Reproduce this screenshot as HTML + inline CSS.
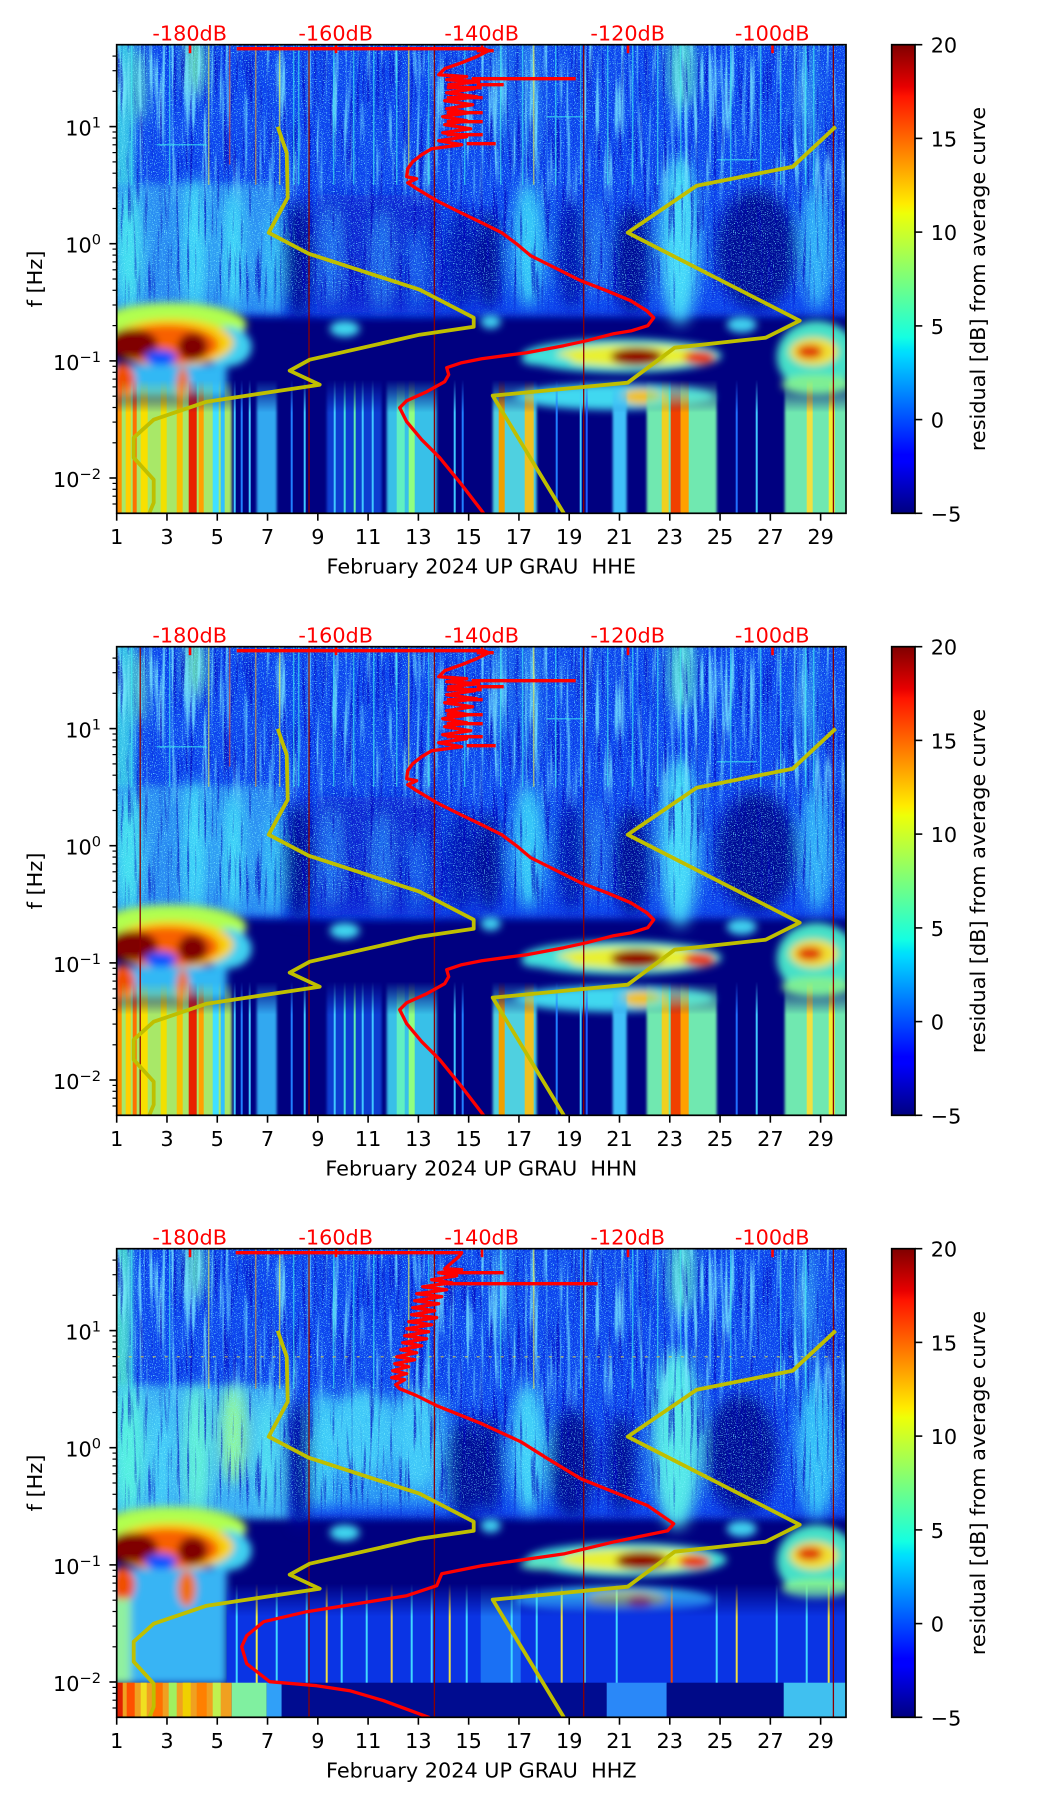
<!DOCTYPE html>
<html><head><meta charset="utf-8"><style>
html,body{margin:0;padding:0;background:#fff;}
svg{display:block;}
text{font-family:"DejaVu Sans","Liberation Sans",sans-serif;}
</style></head><body>
<svg width="1052" height="1806" viewBox="0 0 1052 1806" xmlns="http://www.w3.org/2000/svg" xmlns:xlink="http://www.w3.org/1999/xlink">
<defs>
<filter id="bl" x="-10%" y="-10%" width="120%" height="120%"><feGaussianBlur stdDeviation="4"/></filter>
<filter id="bl8" x="-10%" y="-10%" width="120%" height="120%"><feGaussianBlur stdDeviation="7"/></filter>
<filter id="bl1" x="-10%" y="-10%" width="120%" height="120%"><feGaussianBlur stdDeviation="1.2"/></filter>
<filter id="streak" x="0" y="0" width="100%" height="100%">
 <feTurbulence type="fractalNoise" baseFrequency="0.22 0.01" numOctaves="2" seed="5" result="n"/>
 <feColorMatrix in="n" type="matrix" values="0 0 0 0 0.2  0 0 0 0 0.85  0 0 0 0 1  4.5 0 0 0 -2.35"/>
 <feComposite in2="SourceGraphic" operator="in"/>
</filter>
<filter id="speck" x="0" y="0" width="100%" height="100%">
 <feTurbulence type="fractalNoise" baseFrequency="0.9" numOctaves="1" seed="11" result="n"/>
 <feColorMatrix in="n" type="matrix" values="0 0 0 0 0.2  0 0 0 0 0.9  0 0 0 0 1  6 0 0 0 -3.4"/>
 <feComposite in2="SourceGraphic" operator="in"/>
</filter>
<filter id="dark" x="0" y="0" width="100%" height="100%">
 <feTurbulence type="fractalNoise" baseFrequency="0.3 0.015" numOctaves="2" seed="8" result="n"/>
 <feColorMatrix in="n" type="matrix" values="0 0 0 0 0  0 0 0 0 0  0 0 0 0 0.5  4 0 0 0 -2.2"/>
 <feComposite in2="SourceGraphic" operator="in"/>
</filter>
<clipPath id="cp"><rect x="0" y="0" width="729.3" height="468.6"/></clipPath>
<linearGradient id="jet" x1="0" y1="1" x2="0" y2="0">
<stop offset="0" stop-color="#000080"/><stop offset="0.11" stop-color="#0000ff"/><stop offset="0.125" stop-color="#0000ff"/>
<stop offset="0.34" stop-color="#00dbff"/><stop offset="0.35" stop-color="#00e5f8"/><stop offset="0.375" stop-color="#14ffe2"/>
<stop offset="0.5" stop-color="#7bff7b"/><stop offset="0.64" stop-color="#eeff08"/><stop offset="0.66" stop-color="#ffec00"/>
<stop offset="0.89" stop-color="#ff1300"/><stop offset="0.91" stop-color="#e80000"/><stop offset="1" stop-color="#800000"/>
</linearGradient>
<linearGradient id="fg" gradientUnits="userSpaceOnUse" x1="0" y1="335" x2="0" y2="368"><stop offset="0" stop-color="#000"/><stop offset="1" stop-color="#fff"/></linearGradient>
<mask id="mk" maskUnits="userSpaceOnUse" x="0" y="0" width="730" height="470"><rect x="0" y="0" width="730" height="470" fill="url(#fg)"/></mask>
<linearGradient id="fgt" gradientUnits="userSpaceOnUse" x1="0" y1="120" x2="0" y2="165"><stop offset="0" stop-color="#fff"/><stop offset="1" stop-color="#000"/></linearGradient>
<mask id="mkt" maskUnits="userSpaceOnUse" x="0" y="0" width="730" height="470"><rect x="0" y="0" width="730" height="470" fill="url(#fgt)"/></mask>
<linearGradient id="fgu" gradientUnits="userSpaceOnUse" x1="0" y1="240" x2="0" y2="275"><stop offset="0" stop-color="#fff"/><stop offset="1" stop-color="#000"/></linearGradient>
<mask id="mku" maskUnits="userSpaceOnUse" x="0" y="0" width="730" height="470"><rect x="0" y="0" width="730" height="470" fill="url(#fgu)"/></mask>

<!-- ========== panel 1 / 2 spectrogram ========== -->
<g id="spec1">
<rect x="0" y="0" width="729.3" height="468.6" fill="#000080"/>
<g filter="url(#bl)">
 <rect x="-20" y="-20" width="770" height="292" fill="#0e44ee"/>
 <rect x="-20" y="-20" width="36" height="170" fill="#35c0e8"/>
 <rect x="-20" y="140" width="185" height="128" fill="#2a8cf2"/>
</g>
<g filter="url(#bl8)">
 <ellipse cx="12" cy="205" rx="14" ry="62" fill="#45e0f0"/>
 <ellipse cx="78" cy="200" rx="12" ry="68" fill="#40d8f8"/>
 <ellipse cx="117" cy="205" rx="11" ry="60" fill="#40d8f8"/>
 <ellipse cx="156" cy="215" rx="9" ry="50" fill="#35c0f8"/>
 <ellipse cx="182" cy="215" rx="14" ry="60" fill="#000c98"/>
 <rect x="200" y="150" width="125" height="118" fill="#0828d4"/>
 <ellipse cx="215" cy="210" rx="10" ry="50" fill="#2070f0"/>
 <ellipse cx="265" cy="215" rx="10" ry="50" fill="#2070f0"/>
 <ellipse cx="300" cy="225" rx="8" ry="40" fill="#1860f0"/>
 <ellipse cx="345" cy="215" rx="16" ry="50" fill="#0618b8"/>
 <ellipse cx="372" cy="215" rx="12" ry="50" fill="#000c98"/>
 <ellipse cx="455" cy="210" rx="14" ry="55" fill="#0418b0"/>
 <ellipse cx="515" cy="215" rx="18" ry="55" fill="#000c98"/>
 <ellipse cx="640" cy="205" rx="40" ry="60" fill="#000c98"/>
 <ellipse cx="412" cy="200" rx="16" ry="62" fill="#35c8f8"/>
 <ellipse cx="480" cy="205" rx="10" ry="50" fill="#2070f0"/>
 <ellipse cx="563" cy="195" rx="20" ry="85" fill="#45d8f8"/>
 <ellipse cx="700" cy="200" rx="16" ry="65" fill="#30b0f8"/>
 <ellipse cx="78" cy="18" rx="9" ry="35" fill="#70f0b0"/>
 <ellipse cx="22" cy="40" rx="6" ry="40" fill="#60e0c0"/>
 <ellipse cx="565" cy="25" rx="14" ry="40" fill="#50d0d0"/>
 <ellipse cx="384" cy="40" rx="6" ry="60" fill="#3098f0"/>
 <ellipse cx="414" cy="50" rx="6" ry="70" fill="#3098f0"/>
 <ellipse cx="690" cy="60" rx="8" ry="70" fill="#3098f0"/>
</g>
<g mask="url(#mkt)"><rect x="0" y="0" width="729.3" height="170" fill="#000" filter="url(#streak)" opacity="0.75"/></g>
<g mask="url(#mku)">
<rect x="0" y="0" width="729.3" height="280" fill="#000" filter="url(#dark)" opacity="0.7"/>
<rect x="0" y="0" width="729.3" height="280" fill="#000" filter="url(#speck)" opacity="0.8"/>
</g>
<g filter="url(#bl)">
 <ellipse cx="374" cy="277" rx="10" ry="7" fill="#40d0f0"/>
 <ellipse cx="228" cy="284" rx="15" ry="8" fill="#40d8f0"/>
 <ellipse cx="625" cy="280" rx="15" ry="8" fill="#40d0f0"/>
 <ellipse cx="55" cy="280" rx="75" ry="22" fill="#b0ff50"/>
 <ellipse cx="110" cy="302" rx="25" ry="20" fill="#40d0f0"/>
 <ellipse cx="55" cy="298" rx="62" ry="24" fill="#f8d010"/>
 <ellipse cx="50" cy="300" rx="52" ry="20" fill="#f86000"/>
 <ellipse cx="15" cy="299" rx="26" ry="15" fill="#800000"/>
 <ellipse cx="76" cy="302" rx="15" ry="14" fill="#800000"/>
 <ellipse cx="44" cy="313" rx="16" ry="8" fill="#1050ff"/>
 <rect x="-20" y="320" width="130" height="32" fill="#30b8f4"/>
 <ellipse cx="6" cy="336" rx="12" ry="18" fill="#f05000"/>
 <ellipse cx="66" cy="340" rx="6" ry="18" fill="#f07000"/>
 <ellipse cx="505" cy="311" rx="100" ry="17" fill="#40e0d8"/>
 <ellipse cx="515" cy="311" rx="75" ry="11" fill="#e8f030"/>
 <ellipse cx="520" cy="312" rx="26" ry="9" fill="#900000"/>
 <ellipse cx="583" cy="313" rx="16" ry="7" fill="#e83000"/>
 <ellipse cx="430" cy="316" rx="25" ry="5" fill="#40e0e0"/>
 <ellipse cx="700" cy="312" rx="40" ry="36" fill="#45e0c8"/>
 <ellipse cx="697" cy="307" rx="24" ry="14" fill="#f0e030"/>
 <ellipse cx="693" cy="307" rx="13" ry="7" fill="#e03000"/>
 <ellipse cx="498" cy="352" rx="100" ry="13" fill="#40d8f0"/>
 <ellipse cx="525" cy="352" rx="20" ry="8" fill="#f0c020"/>
 <ellipse cx="700" cy="340" rx="35" ry="10" fill="#80f090"/>
</g>
<g mask="url(#mk)">
 <g filter="url(#bl1)">
 <rect x="-5" y="320" width="120" height="155" fill="#a8e868"/>
 <rect x="140" y="320" width="20" height="155" fill="#30a8f0"/>
 <rect x="210" y="320" width="55" height="155" fill="#0c3cd0"/>
 <rect x="270" y="320" width="50" height="155" fill="#38c0e8"/>
 <rect x="376" y="320" width="44" height="155" fill="#50d0e0"/>
 <rect x="496" y="320" width="14" height="155" fill="#40c0f8"/>
 <rect x="530" y="320" width="70" height="155" fill="#70e8b0"/>
 <rect x="668" y="320" width="65" height="155" fill="#70e8b0"/>
 </g>
 <rect x="0" y="320" width="5" height="155" fill="#ff9000"/>
 <rect x="9" y="320" width="5" height="155" fill="#ffd000"/>
 <rect x="16" y="320" width="4" height="155" fill="#ff7000"/>
 <rect x="24" y="320" width="7" height="155" fill="#f8e000"/>
 <rect x="44" y="320" width="6" height="155" fill="#f0e000"/>
 <rect x="60" y="320" width="6" height="155" fill="#f8c000"/>
 <rect x="72" y="320" width="8" height="155" fill="#e82000"/>
 <rect x="82" y="320" width="5" height="155" fill="#ffa000"/>
 <rect x="96" y="320" width="6" height="155" fill="#40e0ff"/>
 <rect x="104" y="320" width="4" height="155" fill="#30c0ff"/>
 <rect x="554" y="320" width="10" height="155" fill="#f04000"/>
 <rect x="564" y="320" width="8" height="155" fill="#ffa000"/>
 <rect x="545" y="320" width="7" height="155" fill="#f0d020"/>
 <rect x="382" y="320" width="6" height="155" fill="#f0a000"/>
 <rect x="408" y="320" width="9" height="155" fill="#f0c020"/>
 <rect x="690" y="320" width="6" height="155" fill="#f0e040"/>
 <rect x="712" y="320" width="6" height="155" fill="#f0f030"/>
 <rect x="292" y="320" width="6" height="155" fill="#90ff80"/>
 <rect x="280" y="320" width="8" height="155" fill="#60f0c0"/>
 <g stroke-width="2" stroke="#40c8ff">
 <line x1="118" y1="320" x2="118" y2="470"/><line x1="125" y1="320" x2="125" y2="470" stroke="#2080ff"/><line x1="133" y1="320" x2="133" y2="470"/>
 <line x1="175" y1="320" x2="175" y2="470" stroke="#2080ff"/><line x1="188" y1="320" x2="188" y2="470"/><line x1="218" y1="320" x2="218" y2="470"/>
 <line x1="228" y1="320" x2="228" y2="470" stroke="#40e0e0"/><line x1="238" y1="320" x2="238" y2="470" stroke="#60f0b0"/><line x1="246" y1="320" x2="246" y2="470"/><line x1="256" y1="320" x2="256" y2="470"/>
 <line x1="338" y1="320" x2="338" y2="470"/><line x1="346" y1="320" x2="346" y2="470" stroke="#2080ff"/><line x1="440" y1="320" x2="440" y2="470" stroke="#2080ff"/>
 <line x1="464" y1="320" x2="464" y2="470"/><line x1="470" y1="320" x2="470" y2="470" stroke="#2060ff"/><line x1="620" y1="320" x2="620" y2="470" stroke="#2070ff"/><line x1="640" y1="320" x2="640" y2="470"/>
 </g>
</g>
<g stroke-width="1.5" opacity="0.6" stroke="#40f0f0">
 <line x1="15" y1="0" x2="15" y2="140"/><line x1="53" y1="0" x2="53" y2="140"/><line x1="92" y1="0" x2="92" y2="140" stroke="#f0f040"/>
 <line x1="113" y1="0" x2="113" y2="120" stroke="#f04020"/><line x1="139" y1="0" x2="139" y2="140" stroke="#f0a020"/><line x1="163" y1="0" x2="163" y2="140" stroke="#f0f040"/>
 <line x1="177" y1="0" x2="177" y2="140"/><line x1="182" y1="0" x2="182" y2="140"/><line x1="217" y1="0" x2="217" y2="140"/>
 <line x1="237" y1="0" x2="237" y2="140"/><line x1="257" y1="0" x2="257" y2="140"/><line x1="280" y1="0" x2="280" y2="140"/>
 <line x1="292" y1="0" x2="292" y2="140" stroke="#f0f040"/><line x1="312" y1="0" x2="312" y2="140"/><line x1="348" y1="0" x2="348" y2="140"/>
 <line x1="384" y1="0" x2="384" y2="140"/><line x1="406" y1="0" x2="406" y2="140"/><line x1="417" y1="0" x2="417" y2="140" stroke="#f0f040"/>
 <line x1="439" y1="0" x2="439" y2="140"/><line x1="464" y1="0" x2="464" y2="140"/><line x1="491" y1="0" x2="491" y2="140"/>
 <line x1="516" y1="0" x2="516" y2="140"/><line x1="541" y1="0" x2="541" y2="140"/><line x1="564" y1="0" x2="564" y2="140"/>
 <line x1="614" y1="0" x2="614" y2="140"/><line x1="644" y1="0" x2="644" y2="140"/><line x1="664" y1="0" x2="664" y2="140"/>
 <line x1="689" y1="0" x2="689" y2="140"/><line x1="697" y1="0" x2="697" y2="140"/>
 <line x1="40" y1="100" x2="90" y2="100"/><line x1="330" y1="78" x2="360" y2="78"/><line x1="430" y1="72" x2="470" y2="72"/><line x1="600" y1="115" x2="640" y2="115"/>
</g>
</g>

<!-- ========== panel 3 spectrogram ========== -->
<g id="spec3">
<rect x="0" y="0" width="729.3" height="468.6" fill="#000080"/>
<g filter="url(#bl)">
 <rect x="-20" y="-20" width="770" height="290" fill="#0e44ee"/>
 <rect x="-20" y="-20" width="34" height="170" fill="#45d0d0"/>
 <rect x="-20" y="138" width="192" height="132" fill="#3aaef4"/>
</g>
<g filter="url(#bl8)">
 <ellipse cx="12" cy="200" rx="16" ry="65" fill="#55f0e0"/>
 <ellipse cx="45" cy="210" rx="10" ry="55" fill="#45d0f8"/>
 <ellipse cx="80" cy="200" rx="14" ry="65" fill="#60f0d8"/>
 <ellipse cx="117" cy="185" rx="13" ry="50" fill="#90f8a0"/>
 <ellipse cx="150" cy="205" rx="10" ry="55" fill="#50e0f0"/>
 <ellipse cx="183" cy="215" rx="11" ry="65" fill="#000c98"/>
 <rect x="196" y="148" width="134" height="110" fill="#2a98f4"/>
 <ellipse cx="205" cy="200" rx="10" ry="60" fill="#40d0f8"/>
 <ellipse cx="245" cy="185" rx="30" ry="45" fill="#40c8f8"/>
 <ellipse cx="300" cy="190" rx="22" ry="50" fill="#40c8f8"/>
 <ellipse cx="348" cy="220" rx="18" ry="50" fill="#000c98"/>
 <ellipse cx="372" cy="215" rx="12" ry="50" fill="#000c98"/>
 <ellipse cx="455" cy="215" rx="22" ry="55" fill="#000c98"/>
 <ellipse cx="505" cy="215" rx="14" ry="50" fill="#000c98"/>
 <ellipse cx="625" cy="205" rx="35" ry="60" fill="#000c98"/>
 <ellipse cx="412" cy="200" rx="18" ry="65" fill="#40d0f8"/>
 <ellipse cx="560" cy="190" rx="25" ry="90" fill="#55e8e8"/>
 <ellipse cx="700" cy="200" rx="20" ry="70" fill="#35c0f8"/>
 <ellipse cx="78" cy="18" rx="9" ry="35" fill="#60e0c0"/>
 <ellipse cx="565" cy="25" rx="14" ry="40" fill="#50d0d0"/>
 <ellipse cx="384" cy="40" rx="6" ry="60" fill="#3098f0"/>
 <ellipse cx="690" cy="60" rx="8" ry="70" fill="#3098f0"/>
</g>
<g mask="url(#mkt)"><rect x="0" y="0" width="729.3" height="170" fill="#000" filter="url(#streak)" opacity="0.75"/></g>
<g mask="url(#mku)">
<rect x="0" y="0" width="729.3" height="280" fill="#000" filter="url(#dark)" opacity="0.7"/>
<rect x="0" y="0" width="729.3" height="280" fill="#000" filter="url(#speck)" opacity="0.8"/>
</g>
<g filter="url(#bl)">
 <ellipse cx="374" cy="277" rx="10" ry="7" fill="#40d0f0"/>
 <ellipse cx="228" cy="284" rx="15" ry="8" fill="#40d8f0"/>
 <ellipse cx="625" cy="280" rx="15" ry="8" fill="#40d0f0"/>
 <ellipse cx="55" cy="280" rx="75" ry="22" fill="#b0ff50"/>
 <ellipse cx="110" cy="302" rx="25" ry="20" fill="#40d0f0"/>
 <ellipse cx="55" cy="298" rx="62" ry="24" fill="#f8d010"/>
 <ellipse cx="50" cy="300" rx="52" ry="20" fill="#f86000"/>
 <ellipse cx="15" cy="299" rx="26" ry="15" fill="#800000"/>
 <ellipse cx="76" cy="302" rx="15" ry="14" fill="#800000"/>
 <ellipse cx="44" cy="313" rx="16" ry="8" fill="#1050ff"/>
 <rect x="-20" y="320" width="130" height="115" fill="#38b4f4"/>
 <ellipse cx="6" cy="336" rx="12" ry="18" fill="#f05000"/>
 <ellipse cx="70" cy="340" rx="9" ry="18" fill="#f07000"/>
 <rect x="-20" y="350" width="34" height="85" fill="#90f0a0"/>
 <ellipse cx="510" cy="311" rx="100" ry="17" fill="#40e0d8"/>
 <ellipse cx="518" cy="311" rx="75" ry="11" fill="#e8f030"/>
 <ellipse cx="525" cy="312" rx="26" ry="9" fill="#900000"/>
 <ellipse cx="578" cy="313" rx="16" ry="7" fill="#e83000"/>
 <ellipse cx="425" cy="316" rx="22" ry="5" fill="#60e8c0"/>
 <ellipse cx="700" cy="312" rx="40" ry="36" fill="#45e0c8"/>
 <ellipse cx="697" cy="307" rx="24" ry="14" fill="#f0e030"/>
 <ellipse cx="693" cy="305" rx="13" ry="7" fill="#e03000"/>
 <ellipse cx="498" cy="352" rx="100" ry="14" fill="#40d8f0"/>
 <ellipse cx="510" cy="352" rx="40" ry="10" fill="#e0f040"/>
 <ellipse cx="523" cy="355" rx="13" ry="8" fill="#f04000"/>
 <ellipse cx="700" cy="340" rx="35" ry="10" fill="#80f090"/>
</g>
<g mask="url(#mk)">
 <rect x="110" y="320" width="630" height="115" fill="#0a34e4"/>
 <rect x="364" y="320" width="40" height="115" fill="#1a70f4"/>
 <g stroke-width="2" stroke="#40d8ff">
 <line x1="120" y1="320" x2="120" y2="435"/><line x1="140" y1="320" x2="140" y2="435" stroke="#f0f040"/><line x1="160" y1="320" x2="160" y2="435"/>
 <line x1="190" y1="320" x2="190" y2="435"/><line x1="210" y1="320" x2="210" y2="435" stroke="#f0e040"/><line x1="225" y1="320" x2="225" y2="435"/>
 <line x1="250" y1="320" x2="250" y2="435"/><line x1="275" y1="320" x2="275" y2="435" stroke="#f0d040"/><line x1="295" y1="320" x2="295" y2="435"/>
 <line x1="315" y1="320" x2="315" y2="435"/><line x1="333" y1="320" x2="333" y2="435" stroke="#f0e040"/><line x1="350" y1="320" x2="350" y2="435"/>
 <line x1="395" y1="320" x2="395" y2="435"/><line x1="420" y1="320" x2="420" y2="435"/><line x1="445" y1="320" x2="445" y2="435" stroke="#f0e040"/>
 <line x1="468" y1="320" x2="468" y2="435"/><line x1="500" y1="320" x2="500" y2="435"/><line x1="555" y1="320" x2="555" y2="435" stroke="#f04000"/>
 <line x1="600" y1="320" x2="600" y2="435"/><line x1="620" y1="320" x2="620" y2="435" stroke="#f0e040"/><line x1="660" y1="320" x2="660" y2="435"/>
 <line x1="690" y1="320" x2="690" y2="435"/><line x1="712" y1="320" x2="712" y2="435" stroke="#f0e040"/>
 </g>
</g>
<rect x="0" y="434" width="115" height="35" fill="#f0a020"/>
<rect x="0" y="434" width="6" height="35" fill="#e02000"/><rect x="10" y="434" width="8" height="35" fill="#ff5000"/>
<rect x="24" y="434" width="6" height="35" fill="#f0e020"/><rect x="36" y="434" width="10" height="35" fill="#ff7000"/>
<rect x="52" y="434" width="8" height="35" fill="#a0f060"/><rect x="66" y="434" width="8" height="35" fill="#f0d000"/>
<rect x="80" y="434" width="10" height="35" fill="#ff8000"/><rect x="96" y="434" width="8" height="35" fill="#c0f050"/>
<rect x="115" y="434" width="35" height="35" fill="#80f0a0"/>
<rect x="150" y="434" width="15" height="35" fill="#30a0f8"/>
<rect x="165" y="434" width="325" height="35" fill="#000c90"/>
<rect x="490" y="434" width="60" height="35" fill="#2a88f8"/>
<rect x="550" y="434" width="117" height="35" fill="#000a88"/>
<rect x="667" y="434" width="63" height="35" fill="#40c0f0"/>
<g stroke-width="1.5" opacity="0.6" stroke="#40f0f0">
 <line x1="15" y1="0" x2="15" y2="140"/><line x1="53" y1="0" x2="53" y2="140"/><line x1="92" y1="0" x2="92" y2="140" stroke="#f0f040"/>
 <line x1="139" y1="0" x2="139" y2="140" stroke="#f0a020"/><line x1="163" y1="0" x2="163" y2="140" stroke="#f0f040"/>
 <line x1="177" y1="0" x2="177" y2="140"/><line x1="217" y1="0" x2="217" y2="140"/><line x1="237" y1="0" x2="237" y2="140"/>
 <line x1="257" y1="0" x2="257" y2="140"/><line x1="292" y1="0" x2="292" y2="140" stroke="#f0f040"/><line x1="312" y1="0" x2="312" y2="140"/>
 <line x1="384" y1="0" x2="384" y2="140"/><line x1="417" y1="0" x2="417" y2="140" stroke="#f0f040"/><line x1="464" y1="0" x2="464" y2="140"/>
 <line x1="516" y1="0" x2="516" y2="140"/><line x1="541" y1="0" x2="541" y2="140"/><line x1="564" y1="0" x2="564" y2="140"/>
 <line x1="614" y1="0" x2="614" y2="140"/><line x1="664" y1="0" x2="664" y2="140"/><line x1="689" y1="0" x2="689" y2="140"/>
 <line x1="0" y1="108" x2="729" y2="108" stroke="#f0e040" stroke-dasharray="3 9"/>
</g>
</g>

<g id="models" fill="none" stroke-linejoin="round">
 <g stroke="#8b0000" stroke-width="1.3">
 <line x1="192.3" y1="0" x2="192.3" y2="468.6"/><line x1="317.7" y1="0" x2="317.7" y2="468.6"/>
 <line x1="467" y1="0" x2="467" y2="468.6"/><line x1="716.7" y1="0" x2="716.7" y2="468.6"/>
 </g>
 <g stroke="#bfbf00" stroke-width="3.8">
 <polyline points="161,82 170,108 171,153 152,188 192,209 303,245 357,273 357,282 303,290 193,315 173,326 203,340 90,357 37,375 17,393 17,413 37,435 37,458 32,470"/>
 <polyline points="719,82 676,122 580,141 511,188 683,276 649,293 558,303 511,338 376,351 448,470"/>
 </g>
 <g fill="#ff0000">
 <rect x="72" y="0" width="2.6" height="8.5"/><rect x="218" y="0" width="2.6" height="8.5"/>
 <rect x="364" y="0" width="2.6" height="8.5"/><rect x="510" y="0" width="2.6" height="8.5"/><rect x="654.5" y="0" width="2.6" height="8.5"/>
 </g>
</g>
<g id="red1" fill="none" stroke="#ff0000" stroke-width="3.3" stroke-linejoin="round">
 <path d="M120,4 L367,4 L372,6 L360,12 L345,18 L328,24 L322,30 L350,32 L330,35 L362,37 L332,40 L358,44 L330,48 L360,52 L328,56 L356,60 L330,64 L352,68 L326,72 L350,76 L328,80 L354,84 L326,88 L350,92 L322,96 L345,100 L315,104 L305,110 L296,117 L291,124 L290,132 L300,134 L291,138 L300,144 L320,156 L342,167 L365,178 L385,188 L401,200 L414,211 L440,224 L464,236 L490,246 L514,256 L530,266 L537,273 L531,281 L515,286 L497,289 L470,296 L447,301 L410,308 L365,314 L345,318 L330,323 L332,330 L328,337 L310,347 L290,356 L283,363 L290,377 L305,395 L323,413 L345,440 L368,470"/>
 <path d="M355,34 H459 M360,40 H387 M350,99 H379 M360,6 H377 M330,43 H365 M330,53 H366 M330,68 H366 M330,77 H366 M330,90 H366"/>
</g>
<g id="red3" fill="none" stroke="#ff0000" stroke-width="3.3" stroke-linejoin="round">
 <path d="M119,4 L345,4 L342,8 L335,14 L328,20 L345,21 L322,24 L340,27 L315,31 L335,34 L306,38 L330,41 L300,45 L325,48 L298,52 L322,55 L296,59 L318,62 L295,66 L320,69 L292,73 L315,76 L290,80 L312,83 L288,87 L310,90 L286,94 L305,97 L284,101 L300,104 L280,108 L298,111 L278,115 L292,118 L276,122 L290,125 L275,129 L288,131 L279,136 L283,140 L300,147 L320,157 L340,165 L365,175 L404,193 L431,210 L464,230 L531,257 L557,275 L551,282 L498,293 L448,305 L365,317 L325,325 L320,337 L290,347 L190,363 L147,373 L130,387 L125,398 L130,415 L153,433 L200,437 L233,442 L267,452 L313,469"/>
 <path d="M330,24 H387 M322,35 H481"/>
</g>

<g id="frame">
 <rect x="0" y="0" width="729.3" height="468.6" fill="none" stroke="#000" stroke-width="1.7"/>
 <g stroke="#000" stroke-width="1.6">
 <line x1="0" y1="468.6" x2="0" y2="476"/><line x1="50.28" y1="468.6" x2="50.28" y2="476"/><line x1="100.56" y1="468.6" x2="100.56" y2="476"/>
 <line x1="150.84" y1="468.6" x2="150.84" y2="476"/><line x1="201.12" y1="468.6" x2="201.12" y2="476"/><line x1="251.4" y1="468.6" x2="251.4" y2="476"/>
 <line x1="301.68" y1="468.6" x2="301.68" y2="476"/><line x1="351.96" y1="468.6" x2="351.96" y2="476"/><line x1="402.24" y1="468.6" x2="402.24" y2="476"/>
 <line x1="452.52" y1="468.6" x2="452.52" y2="476"/><line x1="502.8" y1="468.6" x2="502.8" y2="476"/><line x1="553.08" y1="468.6" x2="553.08" y2="476"/>
 <line x1="603.36" y1="468.6" x2="603.36" y2="476"/><line x1="653.64" y1="468.6" x2="653.64" y2="476"/><line x1="703.92" y1="468.6" x2="703.92" y2="476"/>
 <line x1="-7.3" y1="81.9" x2="0" y2="81.9"/><line x1="-7.3" y1="199" x2="0" y2="199"/><line x1="-7.3" y1="316.2" x2="0" y2="316.2"/><line x1="-7.3" y1="433.3" x2="0" y2="433.3"/>
 </g>
 <g stroke="#000" stroke-width="1.2">
 <line x1="-4.2" y1="46.6" x2="0" y2="46.6"/><line x1="-4.2" y1="26" x2="0" y2="26"/><line x1="-4.2" y1="11.4" x2="0" y2="11.4"/>
 <line x1="-4.2" y1="163.8" x2="0" y2="163.8"/><line x1="-4.2" y1="143.1" x2="0" y2="143.1"/><line x1="-4.2" y1="128.5" x2="0" y2="128.5"/><line x1="-4.2" y1="117.2" x2="0" y2="117.2"/>
 <line x1="-4.2" y1="107.9" x2="0" y2="107.9"/><line x1="-4.2" y1="100.1" x2="0" y2="100.1"/><line x1="-4.2" y1="93.3" x2="0" y2="93.3"/><line x1="-4.2" y1="87.3" x2="0" y2="87.3"/>
 <line x1="-4.2" y1="280.9" x2="0" y2="280.9"/><line x1="-4.2" y1="260.3" x2="0" y2="260.3"/><line x1="-4.2" y1="245.6" x2="0" y2="245.6"/><line x1="-4.2" y1="234.3" x2="0" y2="234.3"/>
 <line x1="-4.2" y1="225.1" x2="0" y2="225.1"/><line x1="-4.2" y1="217.2" x2="0" y2="217.2"/><line x1="-4.2" y1="210.4" x2="0" y2="210.4"/><line x1="-4.2" y1="204.4" x2="0" y2="204.4"/>
 <line x1="-4.2" y1="398.1" x2="0" y2="398.1"/><line x1="-4.2" y1="377.4" x2="0" y2="377.4"/><line x1="-4.2" y1="362.8" x2="0" y2="362.8"/><line x1="-4.2" y1="351.5" x2="0" y2="351.5"/>
 <line x1="-4.2" y1="342.2" x2="0" y2="342.2"/><line x1="-4.2" y1="334.4" x2="0" y2="334.4"/><line x1="-4.2" y1="327.6" x2="0" y2="327.6"/><line x1="-4.2" y1="321.6" x2="0" y2="321.6"/>
 <line x1="-4.2" y1="459.3" x2="0" y2="459.3"/><line x1="-4.2" y1="451.5" x2="0" y2="451.5"/><line x1="-4.2" y1="444.6" x2="0" y2="444.6"/><line x1="-4.2" y1="438.7" x2="0" y2="438.7"/>
 </g>
 <g font-size="20.8" fill="#000" text-anchor="middle">
 <text x="0" y="499.1">1</text><text x="50.28" y="499.1">3</text><text x="100.56" y="499.1">5</text><text x="150.84" y="499.1">7</text>
 <text x="201.12" y="499.1">9</text><text x="251.4" y="499.1">11</text><text x="301.68" y="499.1">13</text><text x="351.96" y="499.1">15</text>
 <text x="402.24" y="499.1">17</text><text x="452.52" y="499.1">19</text><text x="502.8" y="499.1">21</text><text x="553.08" y="499.1">23</text>
 <text x="603.36" y="499.1">25</text><text x="653.64" y="499.1">27</text><text x="703.92" y="499.1">29</text>
 </g>
 <g font-size="20.8" fill="#000" text-anchor="end">
 <text x="-15.7" y="90.9">10<tspan dy="-8" font-size="14.6">1</tspan></text>
 <text x="-15.7" y="208">10<tspan dy="-8" font-size="14.6">0</tspan></text>
 <text x="-15.7" y="325.2">10<tspan dy="-8" font-size="14.6">−1</tspan></text>
 <text x="-15.7" y="442.3">10<tspan dy="-8" font-size="14.6">−2</tspan></text>
 </g>
 <text transform="translate(-74.7,234.3) rotate(-90)" font-size="20.8" text-anchor="middle" fill="#000">f [Hz]</text>
 <g font-size="20.8" fill="#ff0000" text-anchor="middle">
 <text x="73" y="-4">-180dB</text><text x="219" y="-4">-160dB</text><text x="365" y="-4">-140dB</text><text x="511" y="-4">-120dB</text><text x="655.5" y="-4">-100dB</text>
 </g>
 <rect x="775" y="0" width="23.3" height="468.6" fill="url(#jet)" stroke="#000" stroke-width="1.7"/>
 <g stroke="#000" stroke-width="1.6">
 <line x1="798.3" y1="0" x2="805.6" y2="0"/><line x1="798.3" y1="93.7" x2="805.6" y2="93.7"/><line x1="798.3" y1="187.4" x2="805.6" y2="187.4"/>
 <line x1="798.3" y1="281.2" x2="805.6" y2="281.2"/><line x1="798.3" y1="374.9" x2="805.6" y2="374.9"/><line x1="798.3" y1="468.6" x2="805.6" y2="468.6"/>
 </g>
 <g font-size="20.8" fill="#000">
 <text x="814" y="8">20</text><text x="814" y="101.7">15</text><text x="814" y="195.4">10</text>
 <text x="814" y="289.2">5</text><text x="814" y="382.9">0</text><text x="814" y="476.6">−5</text>
 </g>
 <text transform="translate(868.3,234.3) rotate(-90)" font-size="20.8" text-anchor="middle" fill="#000">residual [dB] from average curve</text>
</g>
</defs>

<g transform="translate(116.7,44.7)">
 <g clip-path="url(#cp)">
  <use xlink:href="#spec1"/>
  <use xlink:href="#models"/>
  <use xlink:href="#red1"/>
 </g>
 <use xlink:href="#frame"/>
 <text x="364.6" y="528.6" font-size="20.8" text-anchor="middle" fill="#000" style="white-space:pre" xml:space="preserve">February 2024 UP GRAU  HHE</text>
</g>

<g transform="translate(116.7,646.7)">
 <g clip-path="url(#cp)">
  <use xlink:href="#spec1"/>
  <line x1="23.5" y1="0" x2="23.5" y2="468.6" stroke="#8b0000" stroke-width="1.3"/>
  <use xlink:href="#models"/>
  <use xlink:href="#red1"/>
 </g>
 <use xlink:href="#frame"/>
 <text x="364.6" y="528.6" font-size="20.8" text-anchor="middle" fill="#000" style="white-space:pre" xml:space="preserve">February 2024 UP GRAU  HHN</text>
</g>

<g transform="translate(116.7,1248.7)">
 <g clip-path="url(#cp)">
  <use xlink:href="#spec3"/>
  <use xlink:href="#models"/>
  <use xlink:href="#red3"/>
 </g>
 <use xlink:href="#frame"/>
 <text x="364.6" y="528.6" font-size="20.8" text-anchor="middle" fill="#000" style="white-space:pre" xml:space="preserve">February 2024 UP GRAU  HHZ</text>
</g>
</svg>
</body></html>
